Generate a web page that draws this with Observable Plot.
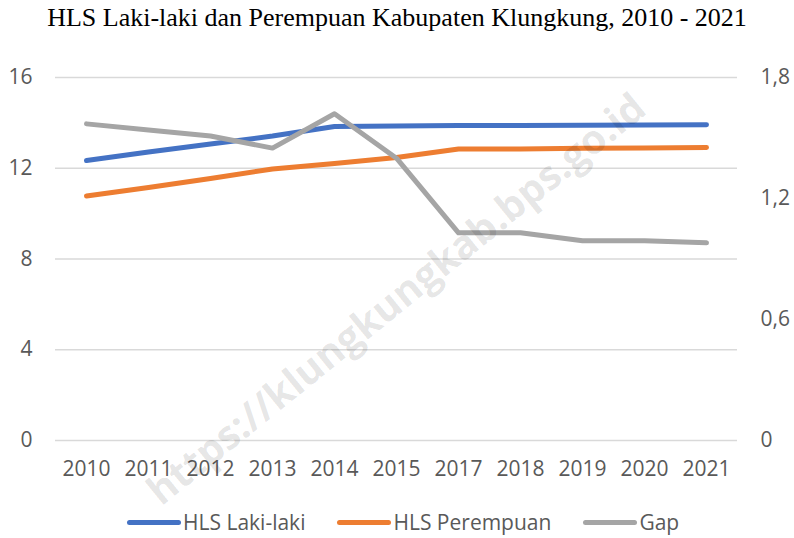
<!DOCTYPE html>
<html>
<head>
<meta charset="utf-8">
<script src="https://cdn.jsdelivr.net/npm/d3@7"></script>
<script src="https://cdn.jsdelivr.net/npm/@observablehq/plot@0.6"></script>
<style>
  html, body { margin: 0; padding: 0; background: #fff; }
  #wrap { position: relative; width: 794px; height: 538px; overflow: hidden; }
  #title { height: 40px; line-height: 35px; text-align: center; font-family: "Liberation Serif", serif; font-size: 26px; color: #000; white-space: nowrap; }
  #legend { position: absolute; left: 0; top: 505px; width: 794px; height: 34px; display: flex; align-items: center; font-family: "Open Sans", sans-serif; font-size: 21px; color: #595959; }
  .sw { display: inline-block; width: 54px; height: 5px; border-radius: 3px; margin-right: 2px; }
  .item { display: flex; align-items: center; margin-right: 32px; }
  #wm { position: absolute; left: 0; top: 0; font-family: "Open Sans", sans-serif; font-weight: bold; font-size: 40px; line-height: 44px; color: rgba(0,0,0,0.11); white-space: nowrap; transform-origin: center center; pointer-events: none; }
</style>
</head>
<body>
<div id="wrap">
  <div id="title">HLS Laki-laki dan Perempuan Kabupaten Klungkung, 2010 - 2021</div>
  <div id="chart"></div>
  <div id="legend"></div>
  <div id="wm">https://klungkungkab.bps.go.id</div>
</div>
<script>
const years = ["2010","2011","2012","2013","2014","2015","2017","2018","2019","2020","2021"];
const hlsLaki = [12.34, 12.72, 13.07, 13.42, 13.84, 13.86, 13.88, 13.88, 13.90, 13.91, 13.92];
const hlsPerempuan = [10.78, 11.15, 11.55, 11.97, 12.21, 12.47, 12.85, 12.85, 12.88, 12.89, 12.91];
const gap = [1.57, 1.54, 1.51, 1.45, 1.62, 1.40, 1.03, 1.03, 0.99, 0.99, 0.98];
const leftTicks = [0, 4, 8, 12, 16];
const rightTicks = [0, 0.6, 1.2, 1.8];
const seriesNames = ["HLS Laki-laki", "HLS Perempuan", "Gap"];
const seriesColors = ["#4472C4", "#ED7D31", "#A5A5A5"];

const k = 16 / 1.8; // right axis (0–1.8) mapped onto left axis (0–16)
const rows = years.map((y, i) => ({year: y, laki: hlsLaki[i], per: hlsPerempuan[i], gap: gap[i] * k}));
const fmt = v => { const r = Math.round(v * 10) / 10; return String(r).replace(".", ","); };

const chart = Plot.plot({
  width: 794,
  height: 460,
  marginTop: 37,
  marginBottom: 60,
  marginLeft: 55,
  marginRight: 57,
  style: {fontFamily: "Open Sans, sans-serif", fontSize: "21px", color: "#595959", background: "transparent"},
  x: {type: "point", domain: years, padding: 0.5},
  y: {domain: [0, 16]},
  marks: [
    Plot.gridY(leftTicks, {stroke: "#d9d9d9", strokeOpacity: 1, strokeWidth: 1.5}),
    Plot.axisY(leftTicks, {anchor: "left", tickSize: 0, tickPadding: 23, label: null}),
    Plot.axisY(rightTicks.map(v => v * k), {anchor: "right", tickSize: 0, tickPadding: 23, label: null, tickFormat: d => fmt(d / k)}),
    Plot.axisX({tickSize: 0, tickPadding: 21, label: null}),
    Plot.line(rows, {x: "year", y: "laki", stroke: seriesColors[0], strokeWidth: 5, strokeLinecap: "round", strokeLinejoin: "round"}),
    Plot.line(rows, {x: "year", y: "per", stroke: seriesColors[1], strokeWidth: 5, strokeLinecap: "round", strokeLinejoin: "round"}),
    Plot.line(rows, {x: "year", y: "gap", stroke: seriesColors[2], strokeWidth: 5, strokeLinecap: "round", strokeLinejoin: "round"})
  ]
});
document.getElementById("chart").appendChild(chart);

const legend = document.getElementById("legend");
legend.style.paddingLeft = "127px";
legend.style.boxSizing = "border-box";
seriesNames.forEach((name, i) => {
  const it = document.createElement("div");
  it.className = "item";
  const sw = document.createElement("span");
  sw.className = "sw";
  sw.style.background = seriesColors[i];
  const t = document.createElement("span");
  t.textContent = name;
  it.appendChild(sw); it.appendChild(t);
  legend.appendChild(it);
});

const wm = document.getElementById("wm");
const w = wm.offsetWidth, h = wm.offsetHeight;
wm.style.left = (395 - w / 2) + "px";
wm.style.top = (298 - h / 2) + "px";
wm.style.transform = "rotate(-39deg)";
</script>
</body>
</html>
